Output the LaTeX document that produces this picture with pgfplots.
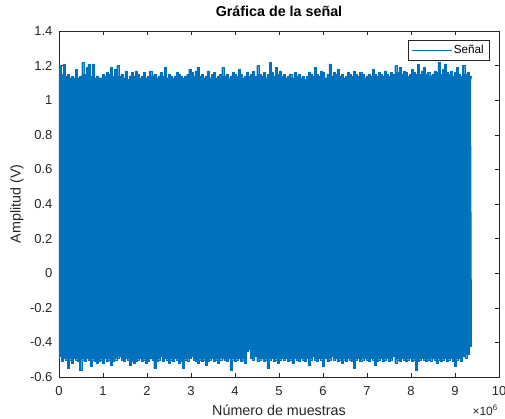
\documentclass[border=0pt]{standalone}
\usepackage{pgfplots}
\pgfplotsset{compat=1.18}
\usepackage{fontspec}
\setmainfont{Liberation Sans}
\definecolor{mblue}{RGB}{0,114,189}
\definecolor{axgray}{RGB}{38,38,38}

\begin{document}
\begin{tikzpicture}
\useasboundingbox (-59pt,-41pt) rectangle (446pt,377pt);
\begin{axis}[
  scale only axis, width=440pt, height=346pt,
  xmin=0, xmax=10, ymin=-0.6, ymax=1.4,
  xtick={0,1,2,3,4,5,6,7,8,9,10},
  xticklabels={0,1,2,3,4,5,6,7,8,9,10},
  ytick={-0.6,-0.4,-0.2,0,0.2,0.4,0.6,0.8,1,1.2,1.4},
  yticklabels={-0.6,-0.4,-0.2,0,0.2,0.4,0.6,0.8,1,1.2,1.4},
  tick align=inside, major tick length=4pt,
  tick style={axgray, line width=0.5pt},
  axis line style={axgray, line width=0.5pt},
  tick label style={font=\fontsize{13}{15}\selectfont, text=axgray},
  xticklabel style={yshift=-6pt},
  yticklabel style={xshift=-3pt},
  title={Gráfica de la señal},
  title style={font=\fontsize{14.3}{16}\selectfont\bfseries, at={(axis description cs:0.5,1)}, anchor=center, yshift=14pt},
  xlabel={Número de muestras},
  xlabel style={font=\fontsize{14.3}{16}\selectfont, text=axgray, at={(axis description cs:0.5,0)}, anchor=center, yshift=-33pt},
  ylabel={Amplitud (V)},
  ylabel style={font=\fontsize{14.3}{16}\selectfont, text=axgray, at={(axis description cs:-0.0955,0.5)}, anchor=center},
  legend style={at={(axis description cs:1,1)}, anchor=north east, xshift=-10pt, yshift=-9pt,
    draw=axgray, line width=0.5pt, font=\fontsize{11.7}{13}\selectfont, inner sep=3pt},
  legend cell align=left,
]
% signal envelope: upper edge (0 -> 9.36e6) then lower edge back (9.36e6 -> 0), step 0.0468e6
\addplot[const plot, fill=mblue, draw=mblue, line width=0.3pt, forget plot]
  table[row sep=\\, x expr={\coordindex<=200 ? \coordindex*0.0468 : (401-\coordindex)*0.0468}, y=y] {
y\\
1.20\\ 1.15\\ 1.21\\ 1.14\\ 1.15\\ 1.13\\ 1.14\\ 1.13\\ 1.18\\ 1.13\\
1.14\\ 1.22\\ 1.15\\ 1.19\\ 1.21\\ 1.14\\ 1.21\\ 1.13\\ 1.14\\ 1.13\\
1.13\\ 1.15\\ 1.14\\ 1.16\\ 1.15\\ 1.19\\ 1.14\\ 1.18\\ 1.20\\ 1.14\\
1.15\\ 1.13\\ 1.17\\ 1.12\\ 1.14\\ 1.16\\ 1.14\\ 1.17\\ 1.15\\ 1.13\\
1.14\\ 1.16\\ 1.13\\ 1.14\\ 1.17\\ 1.14\\ 1.15\\ 1.13\\ 1.14\\ 1.16\\
1.14\\ 1.19\\ 1.13\\ 1.15\\ 1.14\\ 1.13\\ 1.14\\ 1.16\\ 1.15\\ 1.14\\
1.13\\ 1.14\\ 1.15\\ 1.18\\ 1.16\\ 1.14\\ 1.17\\ 1.19\\ 1.14\\ 1.15\\
1.13\\ 1.14\\ 1.17\\ 1.13\\ 1.15\\ 1.16\\ 1.13\\ 1.14\\ 1.15\\ 1.19\\
1.14\\ 1.15\\ 1.13\\ 1.14\\ 1.16\\ 1.15\\ 1.14\\ 1.18\\ 1.15\\ 1.13\\
1.14\\ 1.16\\ 1.14\\ 1.15\\ 1.17\\ 1.14\\ 1.20\\ 1.15\\ 1.14\\ 1.16\\
1.13\\ 1.15\\ 1.22\\ 1.16\\ 1.14\\ 1.19\\ 1.15\\ 1.17\\ 1.14\\ 1.15\\
1.13\\ 1.14\\ 1.15\\ 1.13\\ 1.16\\ 1.14\\ 1.15\\ 1.13\\ 1.14\\ 1.12\\
1.14\\ 1.16\\ 1.15\\ 1.14\\ 1.19\\ 1.15\\ 1.14\\ 1.17\\ 1.16\\ 1.13\\
1.15\\ 1.21\\ 1.14\\ 1.16\\ 1.15\\ 1.18\\ 1.14\\ 1.15\\ 1.13\\ 1.14\\
1.16\\ 1.15\\ 1.14\\ 1.17\\ 1.15\\ 1.14\\ 1.16\\ 1.15\\ 1.13\\ 1.14\\
1.15\\ 1.14\\ 1.18\\ 1.15\\ 1.14\\ 1.16\\ 1.15\\ 1.14\\ 1.17\\ 1.15\\
1.14\\ 1.16\\ 1.15\\ 1.20\\ 1.16\\ 1.19\\ 1.15\\ 1.17\\ 1.16\\ 1.14\\
1.15\\ 1.18\\ 1.16\\ 1.15\\ 1.21\\ 1.15\\ 1.17\\ 1.19\\ 1.15\\ 1.16\\
1.14\\ 1.15\\ 1.17\\ 1.16\\ 1.22\\ 1.15\\ 1.18\\ 1.21\\ 1.16\\ 1.15\\
1.17\\ 1.14\\ 1.16\\ 1.19\\ 1.15\\ 1.14\\ 1.20\\ 1.15\\ 1.16\\ 1.14\\
1.11\\
-0.42\\
-0.47\\ -0.49\\ -0.48\\ -0.51\\ -0.49\\ -0.50\\ -0.54\\ -0.51\\ -0.49\\ -0.50\\
-0.51\\ -0.49\\ -0.50\\ -0.51\\ -0.50\\ -0.52\\ -0.50\\ -0.49\\ -0.51\\ -0.50\\
-0.51\\ -0.50\\ -0.49\\ -0.50\\ -0.51\\ -0.56\\ -0.50\\ -0.51\\ -0.49\\ -0.50\\
-0.51\\ -0.50\\ -0.49\\ -0.51\\ -0.50\\ -0.52\\ -0.48\\ -0.50\\ -0.51\\ -0.49\\
-0.50\\ -0.51\\ -0.49\\ -0.50\\ -0.51\\ -0.53\\ -0.50\\ -0.49\\ -0.51\\ -0.50\\
-0.49\\ -0.50\\ -0.51\\ -0.49\\ -0.50\\ -0.55\\ -0.51\\ -0.50\\ -0.49\\ -0.51\\
-0.50\\ -0.52\\ -0.50\\ -0.51\\ -0.49\\ -0.50\\ -0.48\\ -0.50\\ -0.51\\ -0.49\\
-0.54\\ -0.50\\ -0.49\\ -0.51\\ -0.50\\ -0.48\\ -0.50\\ -0.53\\ -0.49\\ -0.51\\
-0.50\\ -0.49\\ -0.51\\ -0.50\\ -0.49\\ -0.52\\ -0.50\\ -0.51\\ -0.49\\ -0.50\\
-0.49\\ -0.50\\ -0.52\\ -0.50\\ -0.51\\ -0.49\\ -0.50\\ -0.55\\ -0.50\\ -0.51\\
-0.49\\ -0.50\\ -0.51\\ -0.48\\ -0.50\\ -0.49\\ -0.44\\ -0.45\\ -0.52\\ -0.50\\
-0.51\\ -0.49\\ -0.50\\ -0.51\\ -0.50\\ -0.56\\ -0.49\\ -0.51\\ -0.50\\ -0.49\\
-0.50\\ -0.52\\ -0.50\\ -0.51\\ -0.49\\ -0.50\\ -0.51\\ -0.53\\ -0.50\\ -0.51\\
-0.50\\ -0.52\\ -0.51\\ -0.50\\ -0.48\\ -0.49\\ -0.51\\ -0.50\\ -0.55\\ -0.51\\
-0.52\\ -0.50\\ -0.49\\ -0.51\\ -0.50\\ -0.52\\ -0.50\\ -0.49\\ -0.51\\ -0.48\\
-0.50\\ -0.51\\ -0.55\\ -0.50\\ -0.49\\ -0.51\\ -0.52\\ -0.50\\ -0.51\\ -0.49\\
-0.50\\ -0.51\\ -0.52\\ -0.51\\ -0.53\\ -0.50\\ -0.49\\ -0.51\\ -0.50\\ -0.48\\
-0.49\\ -0.50\\ -0.51\\ -0.53\\ -0.50\\ -0.51\\ -0.49\\ -0.52\\ -0.50\\ -0.51\\
-0.52\\ -0.51\\ -0.50\\ -0.54\\ -0.50\\ -0.49\\ -0.51\\ -0.50\\ -0.56\\ -0.51\\
-0.50\\ -0.49\\ -0.52\\ -0.50\\ -0.55\\ -0.50\\ -0.49\\ -0.51\\ -0.48\\ -0.50\\
} -- cycle;
\addlegendimage{legend image code/.code={\draw[mblue, line width=0.6pt] (0pt,0pt) -- (40pt,0pt);}}
\addlegendentry{Señal}
\end{axis}
\node[anchor=base east, inner sep=0pt, font=\fontsize{12}{14}\selectfont, text=axgray]
  at ([xshift=-1pt, yshift=-38pt]current axis.south east) {×10\textsuperscript{6}};
\end{tikzpicture}
\end{document}
